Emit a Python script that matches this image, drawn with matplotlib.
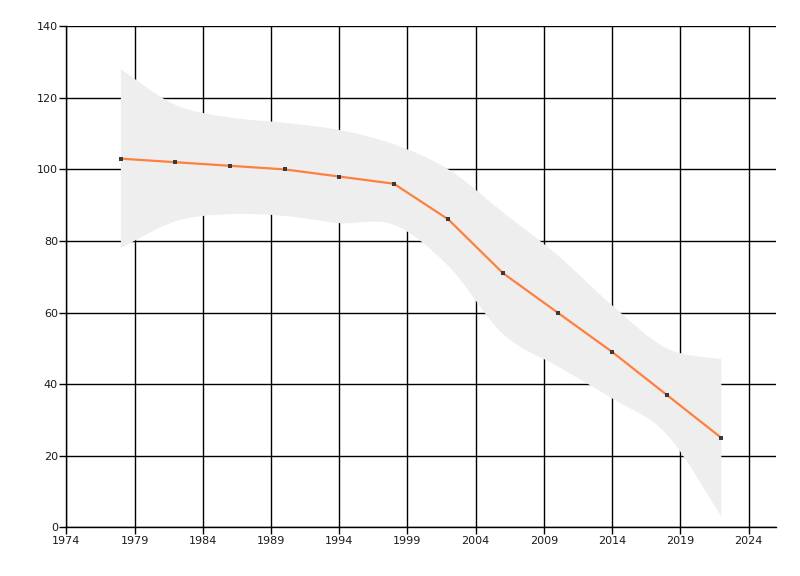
import matplotlib
matplotlib.use("Agg")
import matplotlib.pyplot as plt
from matplotlib.path import Path
from matplotlib.patches import PathPatch

years = [1978, 1982, 1986, 1990, 1994, 1998, 2002, 2006, 2010, 2014, 2018, 2022]
values = [103, 102, 101, 100, 98, 96, 86, 71, 60, 49, 37, 25]
upper = [128, 118, 114.5, 113, 111, 107, 100, 88, 76, 62, 50, 47]
lower = [78, 85.5, 87.5, 87, 85, 84.5, 73, 54, 45, 36, 26, 3]
x_ticks = [1974, 1979, 1984, 1989, 1994, 1999, 2004, 2009, 2014, 2019, 2024]
y_ticks = [0, 20, 40, 60, 80, 100, 120, 140]


def bezier_segments(xs, ys, tension=0.5):
    """Catmull-Rom style smooth path through the given points (Bezier codes)."""
    pts = list(zip(xs, ys))
    verts = [pts[0]]
    codes = []
    n = len(pts)
    for i in range(n - 1):
        p0 = pts[i - 1] if i > 0 else pts[i]
        p1 = pts[i]
        p2 = pts[i + 1]
        p3 = pts[i + 2] if i + 2 < n else pts[i + 1]
        c1 = (p1[0] + (p2[0] - p0[0]) * tension / 3, p1[1] + (p2[1] - p0[1]) * tension / 3)
        c2 = (p2[0] - (p3[0] - p1[0]) * tension / 3, p2[1] - (p3[1] - p1[1]) * tension / 3)
        verts += [c1, c2, p2]
        codes += [Path.CURVE4] * 3
    return verts, codes


fig = plt.figure(figsize=(8, 5.76), dpi=100)
ax = fig.add_axes([0.0829, 0.0845, 0.887, 0.870])

ax.set_xlim(1974, 2026)
ax.set_ylim(0, 140)
ax.set_xticks(x_ticks)
ax.set_yticks(y_ticks)
ax.grid(True, color="black", linewidth=1.0, zorder=0)
ax.set_axisbelow(True)

# smooth band
uv, uc = bezier_segments(years, upper, tension=0.5)
lv, lc = bezier_segments(years[::-1], lower[::-1], tension=0.5)
verts = uv + lv + [uv[0]]
codes = [Path.MOVETO] + uc + [Path.LINETO] + lc + [Path.CLOSEPOLY]
band = PathPatch(Path(verts, codes), facecolor="#eeeeee", edgecolor="none", zorder=2)
ax.add_patch(band)

ax.plot(years, values, color="#ff7f3f", linewidth=1.6, zorder=3)
ax.plot(years, values, linestyle="none", marker="s", markersize=2.4,
        color="#3a3a3a", markeredgewidth=0, zorder=4)

for s in ["top", "right"]:
    ax.spines[s].set_visible(False)
for s in ["left", "bottom"]:
    ax.spines[s].set_color("black")
    ax.spines[s].set_linewidth(1.0)

ax.tick_params(axis="both", direction="out", length=5, width=1, color="black",
               labelsize=8, labelcolor="#1a1a1a", pad=1)

plt.savefig("out.png", dpi=100)
